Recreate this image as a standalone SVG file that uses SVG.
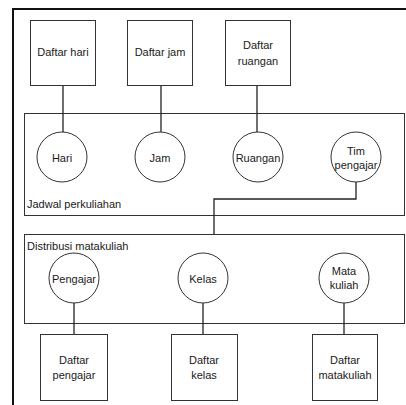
<svg xmlns="http://www.w3.org/2000/svg" width="406" height="405" viewBox="0 0 406 405">
<style>
.box{fill:#fff;stroke:#333;stroke-width:1}
.grp{fill:none;stroke:#333;stroke-width:1}
.c{fill:#fff;stroke:#333;stroke-width:1}
.ln{fill:none;stroke:#222;stroke-width:1.3}
text{font-family:"Liberation Sans",Arial,sans-serif;font-size:11px;fill:#1a1a1a}
.m{text-anchor:middle;dominant-baseline:central}
</style>
<rect width="406" height="405" fill="#fff"/>
<path d="M13,405 V9 H406" fill="none" stroke="#111" stroke-width="2"/>
<g id="jadwal"><rect class="grp" x="24.5" y="113.5" width="380" height="102"/><text x="27" y="208">Jadwal perkuliahan</text></g>
<g id="distribusi"><rect class="grp" x="24.5" y="234.5" width="380" height="89"/><text x="27" y="250">Distribusi matakuliah</text></g>
<g id="connectors">
<line class="ln" x1="63" y1="85" x2="63" y2="132"/>
<line class="ln" x1="161" y1="85" x2="161" y2="132"/>
<line class="ln" x1="257" y1="85" x2="257" y2="132"/>
<path class="ln" d="M356,182 V199 H214 V234"/>
<line class="ln" x1="74" y1="302" x2="74" y2="334"/>
<line class="ln" x1="203" y1="302" x2="203" y2="334"/>
<line class="ln" x1="344" y1="302" x2="344" y2="334"/>
</g>
<g id="daftar-hari"><rect class="box" x="30.5" y="20.5" width="65" height="65"/><text class="m" x="63" y="52">Daftar hari</text></g>
<g id="daftar-jam"><rect class="box" x="127.5" y="20.5" width="65" height="65"/><text class="m" x="160" y="52">Daftar jam</text></g>
<g id="daftar-ruangan"><rect class="box" x="225.5" y="20.5" width="65" height="65"/><text class="m" x="258" y="45">Daftar</text><text class="m" x="258" y="61">ruangan</text></g>
<g id="hari"><circle class="c" cx="62" cy="157" r="25"/><text class="m" x="62" y="158">Hari</text></g>
<g id="jam"><circle class="c" cx="160" cy="157" r="25"/><text class="m" x="160" y="158">Jam</text></g>
<g id="ruangan"><circle class="c" cx="258" cy="157" r="25"/><text class="m" x="258" y="158">Ruangan</text></g>
<g id="tim-pengajar"><circle class="c" cx="356" cy="157" r="25"/><text class="m" x="356" y="151">Tim</text><text class="m" x="356" y="165">pengajar</text></g>
<g id="pengajar"><circle class="c" cx="74" cy="278" r="25"/><text class="m" x="74" y="279">Pengajar</text></g>
<g id="kelas"><circle class="c" cx="203" cy="278" r="25"/><text class="m" x="203" y="279">Kelas</text></g>
<g id="mata-kuliah"><circle class="c" cx="344" cy="278" r="25"/><text class="m" x="344" y="271">Mata</text><text class="m" x="344" y="285">kuliah</text></g>
<g id="daftar-pengajar"><rect class="box" x="40.5" y="334.5" width="67" height="66"/><text class="m" x="74" y="360">Daftar</text><text class="m" x="74" y="375">pengajar</text></g>
<g id="daftar-kelas"><rect class="box" x="171.5" y="334.5" width="66" height="66"/><text class="m" x="204" y="360">Daftar</text><text class="m" x="204" y="375">kelas</text></g>
<g id="daftar-matakuliah"><rect class="box" x="312.5" y="334.5" width="65" height="66"/><text class="m" x="345" y="360">Daftar</text><text class="m" x="345" y="375">matakuliah</text></g>
</svg>
